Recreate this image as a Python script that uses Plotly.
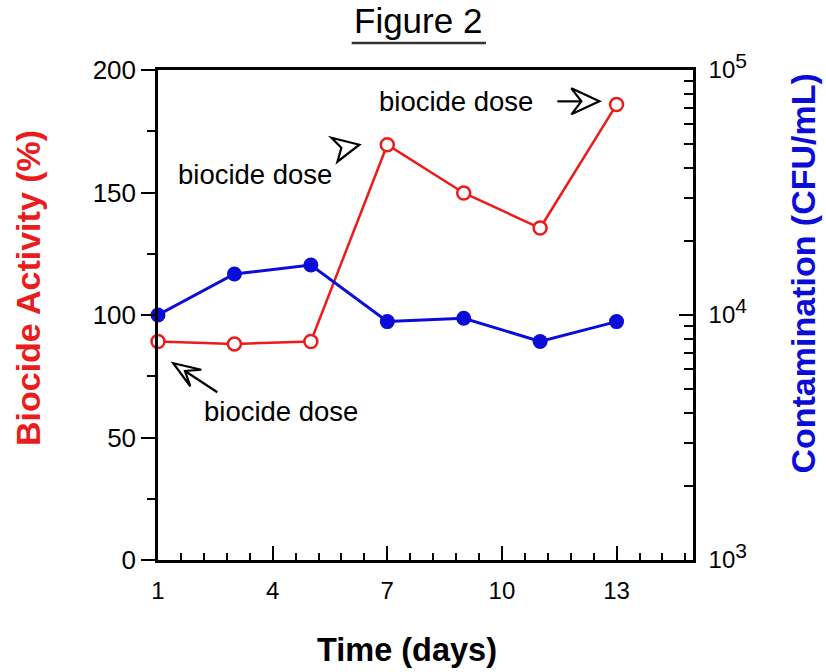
import plotly.graph_objects as go

# ---- data ----
days = [1, 3, 5, 7, 9, 11, 13]
activity = [89.2, 88.2, 89.2, 169.5, 149.8, 135.5, 185.9]          # Biocide Activity (%)
contamination = [10000, 14700, 16000, 9400, 9700, 7800, 9400]     # CFU/mL
x_ticks = [1, 4, 7, 10, 13]
y_ticks = [0, 50, 100, 150, 200]
y2_ticks = [1e3, 1e4, 1e5]
y2_labels = ["10<sup><span style='font-size:21px'>3</span></sup>",
             "10<sup><span style='font-size:21px'>4</span></sup>",
             "10<sup><span style='font-size:21px'>5</span></sup>"]
y2_minor = [m * 10 ** e for e in (3, 4) for m in range(2, 10)]
note_text = "biocide dose"

RED = "#ea1c1c"
BLUE = "#0c0cd8"
FONT = "Liberation Sans, Arial, Helvetica, sans-serif"

fig = go.Figure()
fig.add_trace(go.Scatter(
    x=days, y=activity, mode="lines+markers", yaxis="y", cliponaxis=False,
    line=dict(color=RED, width=2.5),
    marker=dict(symbol="circle", size=13, color="white", line=dict(color=RED, width=2.5)),
))
fig.add_trace(go.Scatter(
    x=days, y=contamination, mode="lines+markers", yaxis="y2", cliponaxis=False,
    line=dict(color=BLUE, width=3),
    marker=dict(symbol="circle", size=15, color=BLUE),
))


def pts(points):
    # screen pixel offsets (y down) -> shape pixel offsets (y up)
    return ["%.1f,%.1f" % (px, -py) for px, py in points]


def arrow_shapes(xa, ya, head, shaft=None):
    out = []
    p = pts([(0, 0)] + head)
    out.append(dict(type="path", xref="x", yref="y", xsizemode="pixel", ysizemode="pixel",
                    xanchor=xa, yanchor=ya,
                    path="M%sL%sL%sL%sZ" % (p[0], p[1], p[2], p[3]),
                    line=dict(color="black", width=2.2), fillcolor="rgba(0,0,0,0)"))
    if shaft:
        s = pts(shaft)
        out.append(dict(type="path", xref="x", yref="y", xsizemode="pixel", ysizemode="pixel",
                        xanchor=xa, yanchor=ya, path="M%sL%s" % (s[0], s[1]),
                        line=dict(color="black", width=2.2)))
    return out


shapes = []
# arrow toward day 1 (lower left)
shapes += arrow_shapes(1.40, 80.3, [(17.0, 23.2), (11.7, 7.7), (28.0, 6.5)],
                       [(11.7, 7.7), (44, 29)])
# arrowhead only (middle)
shapes += arrow_shapes(6.27, 169.5, [(-28, -7), (-18, 3), (-22, 17)])
# arrow toward day 13 (top right)
shapes += arrow_shapes(12.55, 187.2, [(-28, -13), (-18, 0), (-28, 13)],
                       [(-18, 0), (-42, 0)])
# underline of the title
shapes.append(dict(type="line", xref="paper", yref="paper", x0=0.362, x1=0.613,
                   y0=1.055, y1=1.055, line=dict(color="#333333", width=2.5)))

note_font = dict(size=27.5, family=FONT, color="black")
annotations = [
    dict(x=4.23, y=60.6, xref="x", yref="y", text=note_text, showarrow=False,
         xanchor="center", yanchor="middle", font=note_font),
    dict(x=3.54, y=157.3, xref="x", yref="y", text=note_text, showarrow=False,
         xanchor="center", yanchor="middle", font=note_font),
    dict(x=8.81, y=187.0, xref="x", yref="y", text=note_text, showarrow=False,
         xanchor="center", yanchor="middle", font=note_font),
    # titles
    dict(x=0.486, y=1.101, xref="paper", yref="paper", text="Figure 2", showarrow=False,
         xanchor="center", yanchor="middle", font=dict(size=35, family=FONT, color="black")),
    dict(x=0.4645, y=-0.184, xref="paper", yref="paper", text="<b>Time (days)</b>",
         showarrow=False, xanchor="center", yanchor="middle",
         font=dict(size=32.5, family=FONT, color="black")),
    dict(x=-0.244, y=0.556, xref="paper", yref="paper", text="<b>Biocide Activity (%)</b>",
         showarrow=False, textangle=-90, xanchor="center", yanchor="middle",
         font=dict(size=34, family=FONT, color=RED)),
    dict(x=1.206, y=0.585, xref="paper", yref="paper", text="<b>Contamination (CFU/mL)</b>",
         showarrow=False, textangle=-90, xanchor="center", yanchor="middle",
         font=dict(size=34, family=FONT, color=BLUE)),
]

x_minor = dict(tick0=1, dtick=0.6, ticks="inside", ticklen=7, tickwidth=2, tickcolor="black",
               showgrid=False)

fig.update_layout(
    width=826, height=672,
    margin=dict(l=158, r=133, t=70, b=112, autoexpand=False),
    plot_bgcolor="white", paper_bgcolor="white",
    showlegend=False,
    font=dict(family=FONT, color="black"),
    shapes=shapes, annotations=annotations,
    xaxis=dict(
        range=[1, 15], tickmode="array", tickvals=x_ticks, ticks="inside", ticklen=14,
        tickwidth=2, tickcolor="black", showline=True, linewidth=2.5, linecolor="black",
        mirror=True, showgrid=False, zeroline=False, tickfont=dict(size=24, color="black"),
        ticklabelstandoff=7, automargin=False, minor=x_minor,
    ),
    xaxis2=dict(
        range=[1, 15], overlaying="x", side="top", anchor="y", tickmode="array",
        tickvals=x_ticks, ticks="inside", ticklen=14, tickwidth=2, tickcolor="black",
        showline=True, linewidth=2.5, linecolor="black", showgrid=False, zeroline=False,
        showticklabels=False, automargin=False, minor=x_minor,
    ),
    yaxis=dict(
        range=[0, 200], tickmode="array", tickvals=y_ticks, ticks="outside", ticklen=14,
        tickwidth=2, tickcolor="black", showline=True, linewidth=2.5, linecolor="black",
        showgrid=False, zeroline=False, tickfont=dict(size=26, color="black"),
        ticklabelstandoff=0, automargin=False,
        minor=dict(tick0=0, dtick=25, ticks="outside", ticklen=8, tickwidth=2, tickcolor="black",
                   showgrid=False),
    ),
    yaxis2=dict(
        type="log", range=[3, 5], overlaying="y", side="right", anchor="x",
        tickmode="array", tickvals=y2_ticks, ticktext=y2_labels, ticks="inside", ticklen=14,
        tickwidth=2, tickcolor="black", showline=True, linewidth=2.5, linecolor="black",
        showgrid=False, zeroline=False, tickfont=dict(size=24, color="black"),
        ticklabelstandoff=8, automargin=False,
        minor=dict(tickmode="array", tickvals=y2_minor, ticks="inside", ticklen=9, tickwidth=2,
                   tickcolor="black", showgrid=False),
    ),
)

# remove the browser's default 8px page margin so the figure fills the window exactly
fig.write_html("out.html", config={"displayModeBar": False},
               post_script="document.body.style.margin='0';")
